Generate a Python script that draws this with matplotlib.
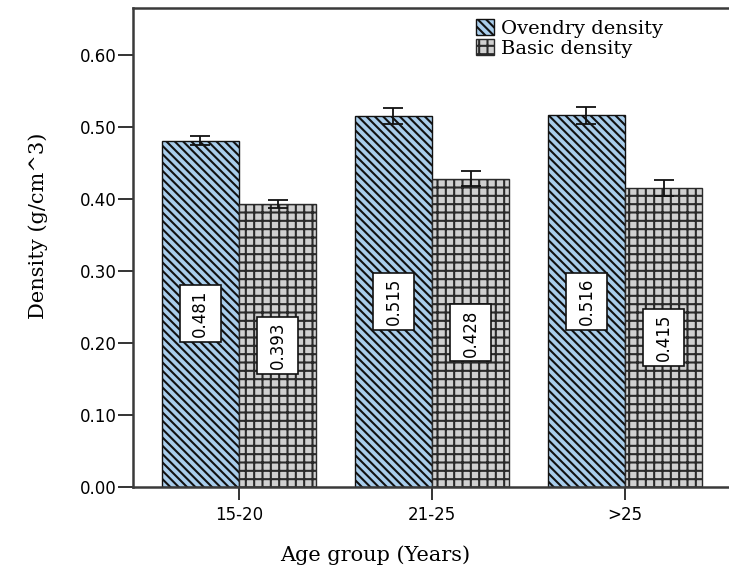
import matplotlib
matplotlib.use("Agg")
import matplotlib.pyplot as plt
from matplotlib.patches import Rectangle
import numpy as np

groups = ["15-20", "21-25", ">25"]
ovendry = [0.481, 0.515, 0.516]
basic = [0.393, 0.428, 0.415]
ovendry_err = [0.006, 0.011, 0.012]
basic_err = [0.006, 0.0105, 0.011]
series_names = ["Ovendry density", "Basic density"]
yticks = [0.0, 0.1, 0.2, 0.3, 0.4, 0.5, 0.6]

plt.rcParams["hatch.linewidth"] = 1.5

fig = plt.figure(figsize=(7.29, 5.73), dpi=100)
ax = fig.add_axes([133 / 729, 86 / 573, 1 - 133 / 729, 479 / 573])

x = np.arange(len(groups))
w = 0.4
ax.bar(x - w / 2, ovendry, w, color="#a9cdeb", edgecolor="#111111",
       hatch="\\\\\\\\", linewidth=1.0, label=series_names[0], zorder=2)
ax.bar(x + w / 2, basic, w, color="#d0d0d0", edgecolor="#2a2a2a",
       hatch="++", linewidth=1.0, label=series_names[1], zorder=2)

ax.errorbar(x - w / 2, ovendry, yerr=ovendry_err, fmt="none", ecolor="#111111",
            elinewidth=1.3, capsize=7, capthick=1.3, zorder=3)
ax.errorbar(x + w / 2, basic, yerr=basic_err, fmt="none", ecolor="#111111",
            elinewidth=1.3, capsize=7, capthick=1.3, zorder=3)

# boxed value labels at mid-height of each bar
box_w, box_h = 0.215, 0.079
for xs, vals in ((x - w / 2, ovendry), (x + w / 2, basic)):
    for xi, v in zip(xs, vals):
        ax.add_patch(Rectangle((xi - box_w / 2, v / 2 - box_h / 2), box_w, box_h,
                               facecolor="white", edgecolor="#111111", lw=1.2, zorder=4))
        ax.text(xi, v / 2, f"{v:.3f}", rotation=90, ha="center", va="center",
                fontsize=12, family="DejaVu Sans", zorder=5)

ax.set_xlim(-0.549, 2 + 104 / 193)
ax.set_ylim(0, 0.665)
ax.set_yticks(yticks)
ax.set_yticklabels([f"{t:.2f}" for t in yticks], family="DejaVu Sans", fontsize=12)
ax.set_xticks(x)
ax.set_xticklabels(groups, family="DejaVu Sans", fontsize=12)
ax.tick_params(axis="y", direction="out", length=10.5, width=1.4, color="#333333", pad=1.5)
ax.tick_params(axis="x", direction="out", length=9.5, width=1.4, color="#333333", pad=4)

for s in ("left", "bottom", "top"):
    ax.spines[s].set_linewidth(1.8)
    ax.spines[s].set_color("#3a3a3a")
ax.spines["right"].set_visible(False)

ax.set_xlabel("Age group (Years)", family="DejaVu Serif", fontsize=15, va="top")
ax.xaxis.set_label_coords((375 - 133) / 596, (487 - 545) / 479)
ax.set_ylabel("Density (g/cm^3)", family="DejaVu Serif", fontsize=15)
ax.yaxis.set_label_coords((48 - 133) / 596, (487 - 226) / 479)

ax.legend(loc="upper left", bbox_to_anchor=((476 - 133) / 596, (487 - 19) / 479),
          frameon=False, prop={"family": "DejaVu Serif", "size": 14},
          handlelength=0.9, handleheight=0.9, handletextpad=0.4,
          labelspacing=0.05, borderpad=0.0, borderaxespad=0.0)

fig.savefig("out.png", dpi=100)
